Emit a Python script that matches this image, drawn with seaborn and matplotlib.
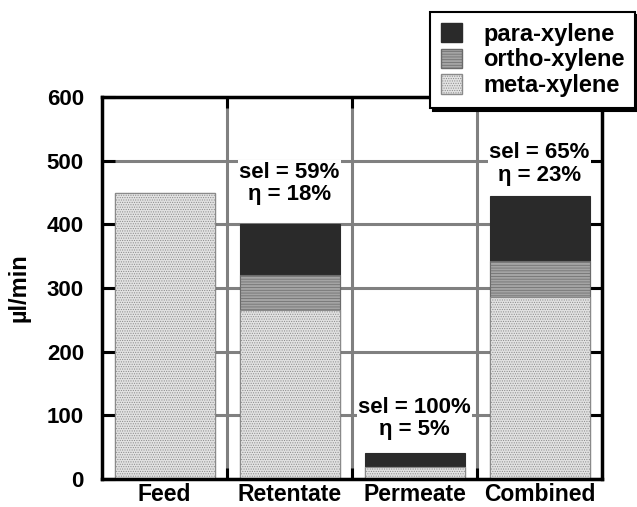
import numpy as np
import pandas as pd
import matplotlib
matplotlib.use("Agg")
import matplotlib.pyplot as plt
import matplotlib.patches as mpatches
import seaborn as sns

# --- data ---
categories = ["Feed", "Retentate", "Permeate", "Combined"]
meta = [450, 266, 19, 286]
ortho = [0, 55, 0, 56]
para = [0, 80, 22, 102]
sel_labels = [None, "sel = 59%\nη = 18%", "sel = 100%\nη = 5%", "sel = 65%\nη = 23%"]
label_y = [None, 464, 95, 495]

sns.set_style("white")
plt.rcParams["font.family"] = ["Liberation Sans", "DejaVu Sans"]
plt.rcParams["font.weight"] = "bold"
plt.rcParams["hatch.linewidth"] = 0.5
plt.rcParams["text.color"] = "black"
plt.rcParams["axes.labelcolor"] = "black"
plt.rcParams["xtick.color"] = "black"
plt.rcParams["ytick.color"] = "black"

df = pd.DataFrame({"cat": categories, "meta": meta, "ortho": ortho, "para": para})
df["lvl_ortho"] = df["meta"] + df["ortho"]
df["lvl_para"] = df["lvl_ortho"] + df["para"]

fig = plt.figure(figsize=(6.37, 5.07), dpi=100)
ax = fig.add_axes([102 / 637, 28 / 507, 500 / 637, 382 / 507])

# stacked look: draw cumulative totals, tallest first
layers = [
    ("lvl_para", "#2a2a2a", "#2a2a2a", None),
    ("lvl_ortho", "#a4a4a4", "#6a6a6a", "------"),
    ("meta", "#e2e2e2", "#8a8a8a", "......."),
]
for col, fc, ec, hatch in layers:
    sns.barplot(data=df, x="cat", y=col, color=fc, saturation=1, errorbar=None,
                edgecolor=ec, linewidth=0.8, hatch=hatch, ax=ax, zorder=2)

ax.set_ylim(0, 600)
ax.set_xlim(-0.5, 3.5)
ax.set_yticks(np.arange(0, 601, 100))
ax.set_xticks([0.5, 1.5, 2.5], minor=True)
ax.grid(True, which="major", axis="y", color="#808080", linewidth=2.2, zorder=0)
ax.grid(True, which="minor", axis="x", color="#808080", linewidth=2.2, zorder=0)
ax.set_axisbelow(True)

ax.tick_params(axis="y", which="major", direction="in", length=9, width=2.2,
               left=True, right=True, labelsize=16, pad=13, colors="black")
ax.tick_params(axis="x", which="major", length=0, labelsize=16.5, pad=3, colors="black")
ax.tick_params(axis="x", which="minor", direction="in", length=8, width=2.2,
               bottom=True, top=True, colors="black")
for lab in ax.get_xticklabels() + ax.get_yticklabels():
    lab.set_fontweight("bold")
for sp in ax.spines.values():
    sp.set_color("black")
    sp.set_linewidth(2.5)

ax.set_xlabel("")
ax.set_ylabel("µl/min", fontsize=17, fontweight="bold", labelpad=12, color="black")

for i, txt in enumerate(sel_labels):
    if txt:
        ax.text(i, label_y[i], txt, ha="center", va="center", fontsize=16,
                fontweight="bold", linespacing=1.1, zorder=3, color="black",
                bbox=dict(facecolor="white", edgecolor="none", pad=1))

handles = [
    mpatches.Patch(facecolor="#2a2a2a", edgecolor="#2a2a2a", label="para-xylene"),
    mpatches.Patch(facecolor="#a4a4a4", edgecolor="#6a6a6a", hatch="------", label="ortho-xylene"),
    mpatches.Patch(facecolor="#e2e2e2", edgecolor="#8a8a8a", hatch=".......", label="meta-xylene"),
]
leg = fig.legend(handles=handles, loc="upper left", bbox_to_anchor=(430 / 637, 1 - 12 / 507),
                 frameon=True, fancybox=False, shadow={"color": "black", "alpha": 1, "ox": 2, "oy": -2},
                 prop={"size": 17, "weight": "bold"}, handlelength=0.9, handleheight=0.9,
                 handletextpad=0.9, labelspacing=0.12, borderpad=0.45, borderaxespad=0)
leg.get_frame().set_edgecolor("black")
leg.get_frame().set_linewidth(1.5)

fig.savefig("out.png", dpi=100)
